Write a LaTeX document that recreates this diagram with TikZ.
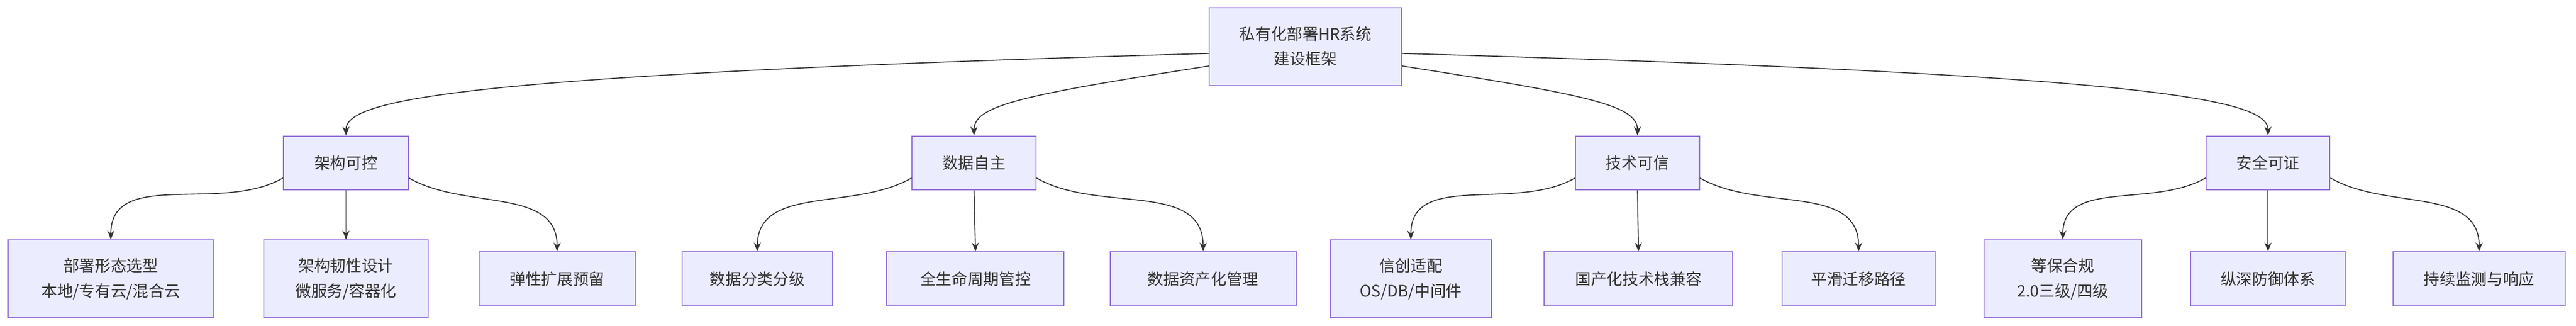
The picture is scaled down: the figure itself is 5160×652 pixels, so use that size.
\documentclass[tikz,border=0pt]{standalone}
\usepackage{fontspec}
\setmainfont{Noto Sans CJK SC}
\usetikzlibrary{arrows.meta}
\definecolor{nfill}{HTML}{ECECFF}
\definecolor{nline}{HTML}{9370DB}
\definecolor{eline}{HTML}{333333}
\begin{document}
\begin{tikzpicture}[x=0.01cm,y=-0.01cm,
  box/.style={draw=nline,fill=nfill,line width=0.6pt,align=center,inner sep=0pt,
    font=\fontsize{9}{14.2}\selectfont,text=eline},
  e/.style={draw=eline,line width=0.55pt,-{Stealth[length=5pt,width=4pt]}}]
\useasboundingbox (0,0) rectangle (5160,652);
\newcommand{\bx}[6]{\node[box,minimum width=#3*0.01cm,minimum height=#4*0.01cm] (#1) at (#2,#5) {#6};}
\bx{root}{2615}{385}{156}{93}{私有化部署HR系统\\建设框架}
\bx{a}{693}{250}{108}{326}{架构可控}
\bx{b}{1951}{248}{108}{326}{数据自主}
\bx{c}{3280}{248}{108}{326}{技术可信}
\bx{d}{4543}{248}{108}{326}{安全可证}
\bx{a1}{222}{412}{156}{558}{部署形态选型\\本地/专有云/混合云}
\bx{a2}{693}{330}{156}{558}{架构韧性设计\\微服务/容器化}
\bx{a3}{1116}{312}{108}{558}{弹性扩展预留}
\bx{b1}{1517}{302}{108}{558}{数据分类分级}
\bx{b2}{1954}{355}{108}{558}{全生命周期管控}
\bx{b3}{2410}{372}{108}{558}{数据资产化管理}
\bx{c1}{2826}{323}{156}{558}{信创适配\\OS/DB/中间件}
\bx{c2}{3282}{378}{108}{558}{国产化技术栈兼容}
\bx{c3}{3723}{306}{108}{558}{平滑迁移路径}
\bx{d1}{4132}{315}{156}{558}{等保合规\\2.0三级/四级}
\bx{d2}{4543}{309}{108}{558}{纵深防御体系}
\bx{d3}{4966}{345}{108}{558}{持续监测与响应}
\draw[e] (root.west) ++(0,14) .. controls (900,150) and (693,200) .. (a.north);
\draw[e] (root.south west) ++(0,-40) .. controls (2050,190) and (1951,210) .. (b.north);
\draw[e] (root.south east) ++(0,-40) .. controls (3180,190) and (3280,210) .. (c.north);
\draw[e] (root.east) ++(0,14) .. controls (4330,150) and (4543,200) .. (d.north);
\foreach \p in {a,b,c,d}{
  \draw[e] (\p.south west) ++(0,-25) to[out=210,in=90] (\p1.north);
  \draw[e] (\p.south) -- (\p2.north);
  \draw[e] (\p.south east) ++(0,-25) to[out=-30,in=90] (\p3.north);
}
\end{tikzpicture}
\end{document}
